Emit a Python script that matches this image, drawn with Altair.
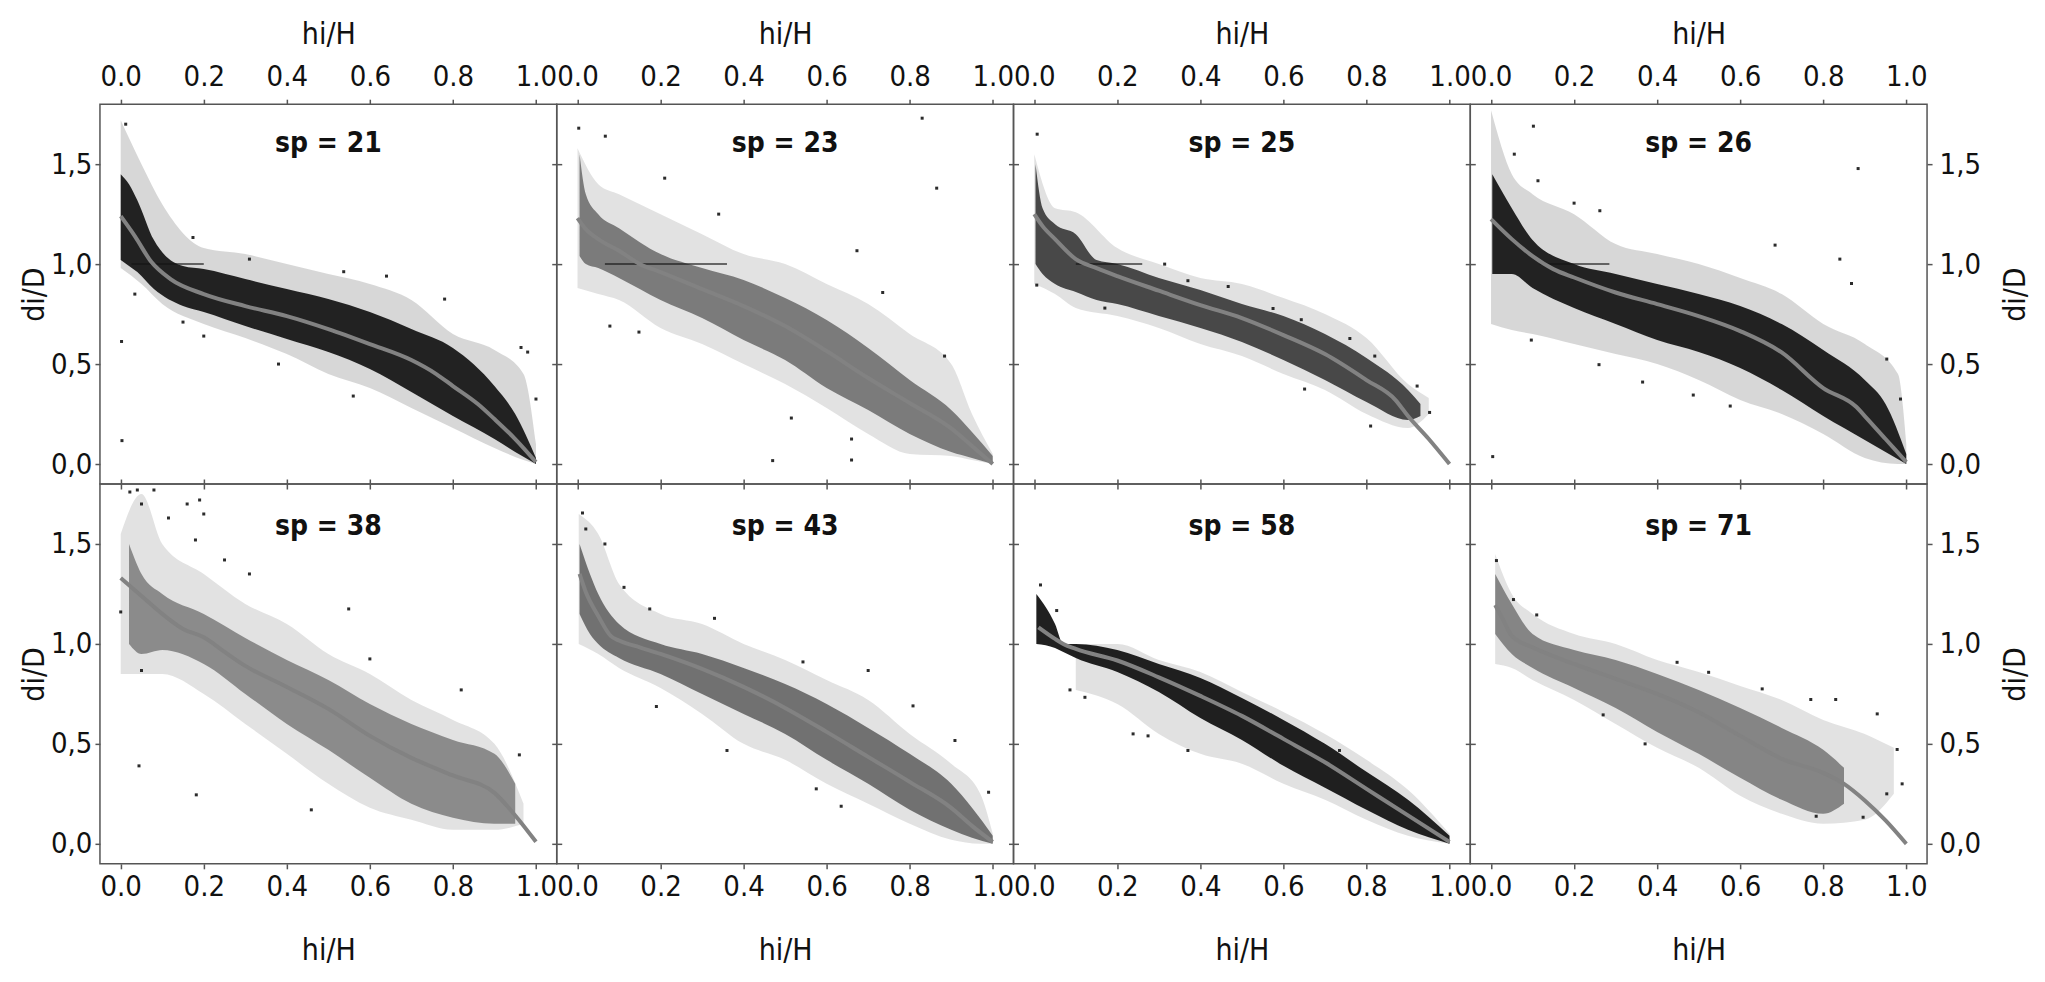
import altair as alt
import pandas as pd

# ---------------- data ----------------
X_TICKS = [0.0, 0.2, 0.4, 0.6, 0.8, 1.0]
Y_TICKS = [0.0, 0.5, 1.0, 1.5]
SPECIES = [21, 23, 25, 26, 38, 43, 58, 71]

# fitted curve (x, di/D)
FIT_21 = [(0.0, 1.24), (0.034, 1.14), (0.074, 1.01), (0.12, 0.925), (0.2, 0.85), (0.3, 0.79), (0.4, 0.74),
          (0.5, 0.675), (0.6, 0.6), (0.7, 0.52), (0.76, 0.45), (0.8, 0.39), (0.86, 0.3), (0.9, 0.225),
          (0.95, 0.125), (1.0, 0.01)]
FIT_23 = [(0.0, 1.23), (0.02, 1.175), (0.05, 1.125), (0.1, 1.067), (0.15, 1.0), (0.2, 0.96), (0.3, 0.875),
          (0.4, 0.79), (0.5, 0.69), (0.6, 0.565), (0.7, 0.43), (0.8, 0.305), (0.9, 0.178), (0.95, 0.09), (1.0, 0.0)]
FIT_25 = [(0.0, 1.25), (0.02, 1.19), (0.05, 1.125), (0.1, 1.025), (0.15, 0.98), (0.2, 0.94), (0.3, 0.867),
          (0.4, 0.795), (0.5, 0.73), (0.6, 0.645), (0.7, 0.55), (0.8, 0.42), (0.87, 0.32), (0.9, 0.24),
          (0.95, 0.125), (1.0, 0.0)]
FIT_26 = [(0.0, 1.225), (0.05, 1.125), (0.1, 1.04), (0.15, 0.975), (0.2, 0.933), (0.3, 0.858), (0.4, 0.8),
          (0.5, 0.74), (0.6, 0.665), (0.7, 0.558), (0.8, 0.38), (0.88, 0.285), (0.9, 0.24), (0.95, 0.125),
          (1.0, 0.01)]
FIT_38 = [(0.0, 1.33), (0.05, 1.24), (0.1, 1.15), (0.15, 1.075), (0.2, 1.033), (0.25, 0.96), (0.3, 0.89),
          (0.4, 0.785), (0.5, 0.675), (0.6, 0.54), (0.7, 0.43), (0.8, 0.342), (0.9, 0.255), (0.95, 0.142),
          (1.0, 0.01)]
FIT_43 = [(0.005, 1.35), (0.02, 1.26), (0.05, 1.14), (0.08, 1.04), (0.1, 1.017), (0.15, 0.983), (0.2, 0.95),
          (0.3, 0.875), (0.4, 0.785), (0.5, 0.68), (0.6, 0.56), (0.7, 0.435), (0.8, 0.31), (0.9, 0.18),
          (0.95, 0.09), (1.0, 0.01)]
FIT_58 = [(0.01, 1.083), (0.05, 1.025), (0.07, 1.0), (0.1, 0.975), (0.2, 0.917), (0.3, 0.833), (0.4, 0.74),
          (0.5, 0.64), (0.6, 0.525), (0.7, 0.408), (0.8, 0.275), (0.9, 0.142), (1.0, 0.01)]
FIT_71 = [(0.01, 1.195), (0.03, 1.117), (0.05, 1.04), (0.1, 0.983), (0.2, 0.9), (0.3, 0.825), (0.4, 0.75),
          (0.5, 0.658), (0.6, 0.54), (0.7, 0.425), (0.8, 0.355), (0.85, 0.3), (0.9, 0.217), (0.95, 0.117),
          (1.0, 0.0)]

# dense part of the point cloud (x, lower, upper)
CORE_21 = [(0.0, 1.02, 1.45), (0.02, 0.99, 1.4), (0.04, 0.96, 1.32), (0.08, 0.875, 1.12), (0.15, 0.79, 0.99),
           (0.2, 0.76, 0.975), (0.3, 0.69, 0.925), (0.4, 0.625, 0.875), (0.5, 0.56, 0.825), (0.6, 0.475, 0.76),
           (0.7, 0.36, 0.675), (0.8, 0.24, 0.58), (0.9, 0.125, 0.39), (0.95, 0.06, 0.25), (1.0, 0.0, 0.03)]
CORE_23 = [(0.005, 1.04, 1.55), (0.02, 1.0, 1.35), (0.05, 0.98, 1.25), (0.1, 0.93, 1.18), (0.2, 0.82, 1.05),
           (0.3, 0.73, 0.98), (0.4, 0.62, 0.92), (0.5, 0.52, 0.83), (0.6, 0.38, 0.72), (0.7, 0.27, 0.58),
           (0.8, 0.15, 0.42), (0.9, 0.06, 0.27), (0.95, 0.03, 0.16), (1.0, 0.0, 0.04)]
CORE_25 = [(0.003, 1.0, 1.5), (0.02, 0.95, 1.28), (0.05, 0.9, 1.2), (0.1, 0.86, 1.15), (0.15, 0.82, 1.02),
           (0.2, 0.8, 1.0), (0.3, 0.74, 0.93), (0.4, 0.68, 0.87), (0.5, 0.61, 0.8), (0.6, 0.52, 0.74),
           (0.7, 0.42, 0.65), (0.8, 0.31, 0.53), (0.9, 0.22, 0.37), (0.93, 0.24, 0.3)]
CORE_26 = [(0.003, 0.95, 1.45), (0.05, 0.95, 1.28), (0.1, 0.88, 1.12), (0.2, 0.78, 1.0), (0.3, 0.7, 0.95),
           (0.4, 0.62, 0.9), (0.5, 0.56, 0.85), (0.6, 0.48, 0.79), (0.7, 0.37, 0.7), (0.8, 0.24, 0.57),
           (0.9, 0.12, 0.42), (0.95, 0.06, 0.3), (1.0, 0.0, 0.05)]
CORE_38 = [(0.02, 1.0, 1.5), (0.05, 0.95, 1.35), (0.1, 0.97, 1.25), (0.2, 0.9, 1.15), (0.3, 0.75, 1.03),
           (0.4, 0.6, 0.92), (0.5, 0.47, 0.82), (0.6, 0.33, 0.7), (0.7, 0.2, 0.6), (0.8, 0.13, 0.52),
           (0.9, 0.1, 0.45), (0.95, 0.1, 0.3)]
CORE_43 = [(0.005, 1.15, 1.5), (0.03, 1.05, 1.35), (0.05, 1.0, 1.25), (0.1, 0.93, 1.1), (0.2, 0.85, 1.0),
           (0.3, 0.75, 0.95), (0.4, 0.65, 0.88), (0.5, 0.55, 0.8), (0.6, 0.42, 0.7), (0.7, 0.3, 0.58),
           (0.8, 0.17, 0.45), (0.9, 0.07, 0.3), (0.95, 0.03, 0.18), (1.0, 0.0, 0.04)]
CORE_58 = [(0.005, 1.0, 1.25), (0.05, 0.98, 1.1), (0.07, 0.96, 1.0), (0.1, 0.93, 1.0), (0.2, 0.86, 0.97),
           (0.3, 0.76, 0.9), (0.4, 0.63, 0.83), (0.5, 0.52, 0.73), (0.6, 0.39, 0.62), (0.7, 0.28, 0.5),
           (0.8, 0.17, 0.36), (0.9, 0.07, 0.22), (1.0, 0.0, 0.04)]
CORE_71 = [(0.01, 1.05, 1.35), (0.05, 0.95, 1.2), (0.1, 0.88, 1.05), (0.2, 0.78, 0.97), (0.3, 0.68, 0.92),
           (0.4, 0.56, 0.85), (0.5, 0.45, 0.77), (0.6, 0.33, 0.68), (0.7, 0.22, 0.58), (0.8, 0.15, 0.47),
           (0.85, 0.2, 0.38)]

# sparse fringe of the point cloud (x, lower, upper)
OUTER_21 = [(0.0, 0.98, 1.72), (0.05, 0.9, 1.5), (0.1, 0.8, 1.3), (0.2, 0.7, 1.08), (0.3, 0.63, 1.05),
            (0.4, 0.55, 1.0), (0.5, 0.45, 0.95), (0.6, 0.38, 0.9), (0.7, 0.28, 0.82), (0.8, 0.18, 0.65),
            (0.9, 0.08, 0.57), (0.97, 0.02, 0.45), (1.0, 0.0, 0.1)]
OUTER_23 = [(0.0, 0.88, 1.58), (0.05, 0.85, 1.4), (0.1, 0.82, 1.35), (0.2, 0.68, 1.25), (0.3, 0.6, 1.15),
            (0.4, 0.5, 1.05), (0.5, 0.4, 1.0), (0.6, 0.28, 0.9), (0.7, 0.15, 0.8), (0.8, 0.05, 0.65),
            (0.9, 0.04, 0.5), (0.95, 0.02, 0.25), (1.0, 0.0, 0.05)]
OUTER_25 = [(0.0, 0.9, 1.55), (0.05, 0.85, 1.28), (0.1, 0.78, 1.26), (0.2, 0.74, 1.08), (0.3, 0.68, 1.0),
            (0.4, 0.6, 0.93), (0.5, 0.54, 0.9), (0.6, 0.45, 0.83), (0.7, 0.37, 0.75), (0.8, 0.25, 0.63),
            (0.9, 0.18, 0.4), (0.95, 0.25, 0.33)]
OUTER_26 = [(0.0, 0.7, 1.77), (0.05, 0.67, 1.45), (0.1, 0.65, 1.35), (0.2, 0.6, 1.25), (0.3, 0.55, 1.1),
            (0.4, 0.5, 1.05), (0.5, 0.42, 1.0), (0.6, 0.32, 0.93), (0.7, 0.25, 0.85), (0.8, 0.15, 0.7),
            (0.9, 0.03, 0.6), (0.98, 0.0, 0.45), (1.0, 0.0, 0.1)]
OUTER_38 = [(0.0, 0.85, 1.55), (0.05, 0.85, 1.75), (0.1, 0.85, 1.5), (0.2, 0.75, 1.35), (0.3, 0.6, 1.2),
            (0.4, 0.45, 1.1), (0.5, 0.3, 0.95), (0.6, 0.18, 0.85), (0.7, 0.12, 0.72), (0.8, 0.07, 0.62),
            (0.9, 0.07, 0.5), (0.97, 0.1, 0.2)]
OUTER_43 = [(0.003, 1.0, 1.65), (0.05, 0.95, 1.55), (0.1, 0.88, 1.3), (0.2, 0.78, 1.15), (0.3, 0.65, 1.1),
            (0.4, 0.5, 1.0), (0.5, 0.42, 0.92), (0.6, 0.3, 0.82), (0.7, 0.2, 0.72), (0.8, 0.1, 0.55),
            (0.9, 0.02, 0.4), (0.97, 0.0, 0.25), (1.0, 0.0, 0.05)]
OUTER_58 = [(0.1, 0.77, 1.0), (0.2, 0.7, 1.0), (0.3, 0.55, 0.92), (0.4, 0.45, 0.86), (0.5, 0.4, 0.76),
            (0.6, 0.3, 0.66), (0.7, 0.22, 0.55), (0.8, 0.12, 0.42), (0.9, 0.04, 0.27), (1.0, 0.0, 0.05)]
OUTER_71 = [(0.01, 0.9, 1.45), (0.05, 0.88, 1.25), (0.1, 0.82, 1.15), (0.2, 0.72, 1.05), (0.3, 0.6, 1.0),
            (0.4, 0.48, 0.92), (0.5, 0.38, 0.86), (0.6, 0.24, 0.79), (0.7, 0.15, 0.72), (0.8, 0.1, 0.62),
            (0.9, 0.12, 0.55), (0.97, 0.25, 0.48)]

# isolated points (x, di/D)
DOTS_21 = [(0.003, 0.117), (0.002, 0.613), (0.034, 0.85), (0.174, 1.133), (0.31, 1.025), (0.537, 0.962),
           (0.64, 0.94), (0.78, 0.825), (0.56, 0.34), (0.38, 0.5), (0.964, 0.583), (0.98, 0.56), (1.0, 0.325),
           (0.15, 0.71), (0.2, 0.64), (0.012, 1.7)]
DOTS_23 = [(0.003, 1.68), (0.067, 1.64), (0.21, 1.43), (0.83, 1.73), (0.865, 1.38), (0.673, 1.067),
           (0.47, 0.017), (0.66, 0.02), (0.34, 1.25), (0.078, 0.69), (0.148, 0.66), (0.515, 0.23),
           (0.66, 0.125), (0.884, 0.54), (0.735, 0.858)]
DOTS_25 = [(0.007, 1.65), (0.006, 0.895), (0.952, 0.258), (0.314, 1.0), (0.37, 0.917), (0.467, 0.888),
           (0.575, 0.778), (0.643, 0.722), (0.76, 0.628), (0.82, 0.54), (0.922, 0.39), (0.81, 0.19),
           (0.651, 0.375), (0.17, 0.78)]
DOTS_26 = [(0.102, 1.69), (0.884, 1.478), (0.684, 1.095), (0.84, 1.025), (0.868, 0.903), (0.004, 0.037),
           (0.056, 1.55), (0.113, 1.417), (0.2, 1.305), (0.262, 1.267), (0.097, 0.62), (0.26, 0.497),
           (0.365, 0.41), (0.487, 0.345), (0.576, 0.29), (0.953, 0.525), (0.986, 0.325)]
DOTS_38 = [(0.022, 1.76), (0.04, 1.77), (0.05, 1.7), (0.08, 1.77), (0.16, 1.7), (0.19, 1.72), (0.2, 1.65),
           (0.115, 1.63), (0.18, 1.52), (0.25, 1.42), (0.31, 1.35), (0.549, 1.175), (0.044, 0.39),
           (0.182, 0.245), (0.459, 0.17), (0.82, 0.77), (0.96, 0.445), (0.0, 1.16), (0.05, 0.867), (0.6, 0.925)]
DOTS_43 = [(0.012, 1.655), (0.02, 1.575), (0.066, 1.5), (0.112, 1.283), (0.174, 1.175), (0.33, 1.128),
           (0.543, 0.91), (0.7, 0.867), (0.808, 0.69), (0.909, 0.517), (0.19, 0.687), (0.36, 0.467),
           (0.575, 0.275), (0.635, 0.188), (0.99, 0.258)]
DOTS_58 = [(0.015, 1.295), (0.054, 1.167), (0.086, 0.77), (0.122, 0.733), (0.238, 0.55), (0.274, 0.54),
           (0.37, 0.467), (0.735, 0.467)]
DOTS_71 = [(0.013, 1.417), (0.11, 1.145), (0.054, 1.222), (0.448, 0.908), (0.524, 0.858), (0.653, 0.775),
           (0.77, 0.722), (0.83, 0.722), (0.93, 0.65), (0.978, 0.472), (0.99, 0.3), (0.953, 0.25),
           (0.896, 0.133), (0.783, 0.138), (0.371, 0.5), (0.27, 0.645)]

# dense horizontal runs of points at di/D = 1.0 (x start, x end, di/D)
RUN_21 = [(0.026, 0.2, 1.0)]
RUN_23 = [(0.066, 0.36, 1.0)]
RUN_25 = [(0.1, 0.26, 1.0)]
RUN_26 = [(0.117, 0.285, 1.0)]

FIT = {21: FIT_21, 23: FIT_23, 25: FIT_25, 26: FIT_26, 38: FIT_38, 43: FIT_43, 58: FIT_58, 71: FIT_71}
CORE = {21: CORE_21, 23: CORE_23, 25: CORE_25, 26: CORE_26, 38: CORE_38, 43: CORE_43, 58: CORE_58, 71: CORE_71}
OUTER = {21: OUTER_21, 23: OUTER_23, 25: OUTER_25, 26: OUTER_26, 38: OUTER_38, 43: OUTER_43, 58: OUTER_58,
         71: OUTER_71}
DOTS = {21: DOTS_21, 23: DOTS_23, 25: DOTS_25, 26: DOTS_26, 38: DOTS_38, 43: DOTS_43, 58: DOTS_58, 71: DOTS_71}
RUNS = {21: RUN_21, 23: RUN_23, 25: RUN_25, 26: RUN_26}

# ---------------- style ----------------
CORE_OPACITY = {21: 0.93, 23: 0.5, 25: 0.75, 26: 0.93, 38: 0.42, 43: 0.55, 58: 0.95, 71: 0.45}
OUTER_OPACITY = {21: 0.17, 23: 0.12, 25: 0.13, 26: 0.17, 38: 0.12, 43: 0.12, 58: 0.13, 71: 0.12}
W, H = 457, 380
FONT = "DejaVu Sans Condensed, Liberation Sans Narrow, sans-serif"
INK = "#141414"
FRAME = "#555555"
FIT_GREY = "#828282"
LABEL_SIZE = 29
TITLE_SIZE = 30
TICK = 5

XS = alt.Scale(domain=[-0.05, 1.05], nice=False, zero=False)
YS = alt.Scale(domain=[-0.1, 1.8], nice=False, zero=False)
Y_LABEL = "replace(format(datum.value, '.1f'), '.', ',')"


def x_axis(orient, show):
    kw = dict(orient=orient, values=X_TICKS, format=".1f", grid=False, domain=False,
              tickSize=TICK, tickWidth=1.5, tickColor=FRAME, labels=show)
    if show:
        kw.update(title="hi/H", labelFont=FONT, labelFontSize=LABEL_SIZE, labelColor="#111",
                  labelPadding=8 if orient == "top" else 4,
                  titleFont=FONT, titleFontSize=TITLE_SIZE, titleFontWeight="normal", titleColor="#111",
                  titlePadding=13 if orient == "top" else 34, labelFlush=False, labelOverlap=False)
    else:
        kw.update(title=None)
    return alt.Axis(**kw)


def y_axis(orient, show):
    kw = dict(orient=orient, values=Y_TICKS, grid=False, domain=False,
              tickSize=TICK, tickWidth=1.5, tickColor=FRAME, labels=show)
    if show:
        kw.update(title="di/D", labelExpr=Y_LABEL, labelFont=FONT, labelFontSize=LABEL_SIZE, labelColor="#111",
                  labelPadding=3 if orient == "left" else 7, titleFont=FONT, titleFontSize=TITLE_SIZE,
                  titleFontWeight="normal", titleColor="#111", titleAngle=270, labelOverlap=False,
                  titlePadding=1 if orient == "left" else 20)
        if orient == "right":
            kw.update(titleBaseline="top")
    else:
        kw.update(title=None)
    return alt.Axis(**kw)


def panel(sp, row, col):
    core = pd.DataFrame(CORE[sp], columns=["x", "lo", "hi"])
    outer = pd.DataFrame(OUTER[sp], columns=["x", "lo", "hi"])
    fit = pd.DataFrame(FIT[sp], columns=["x", "y"])
    dots = pd.DataFrame(DOTS[sp], columns=["x", "y"])
    label = pd.DataFrame({"t": [f"sp = {sp}"]})

    top_row = row == 0
    layers = []

    layers.append(alt.Chart(outer).mark_area(color=INK, opacity=OUTER_OPACITY[sp], interpolate="monotone").encode(
        x=alt.X("x:Q", scale=XS, axis=None),
        y=alt.Y("lo:Q", scale=YS, axis=None),
        y2="hi:Q"))

    layers.append(alt.Chart(core).mark_area(color=INK, opacity=CORE_OPACITY[sp], interpolate="monotone").encode(
        x=alt.X("x:Q", scale=XS, axis=x_axis("top" if top_row else "bottom", True)),
        y=alt.Y("lo:Q", scale=YS, axis=y_axis("left", col == 0)),
        y2="hi:Q"))

    if sp in RUNS:
        runs = pd.DataFrame(RUNS[sp], columns=["x1", "x2", "y"])
        layers.append(alt.Chart(runs).mark_rule(color=INK, strokeWidth=1.5, opacity=0.8).encode(
            x=alt.X("x1:Q", scale=XS, axis=None), x2="x2:Q",
            y=alt.Y("y:Q", scale=YS, axis=None)))

    layers.append(alt.Chart(dots).mark_square(color=INK, size=9, opacity=0.9).encode(
        x=alt.X("x:Q", scale=XS, axis=None),
        y=alt.Y("y:Q", scale=YS, axis=None)))

    layers.append(alt.Chart(fit).mark_line(color=FIT_GREY, strokeWidth=4, interpolate="monotone").encode(
        x=alt.X("x:Q", scale=XS, axis=x_axis("bottom" if top_row else "top", False)),
        y=alt.Y("y:Q", scale=YS, axis=y_axis("right", col == 3))))

    layers.append(alt.Chart(label).mark_text(font=FONT, fontSize=28, fontWeight="bold", color="#111",
                                             align="center", baseline="middle").encode(
        x=alt.value(W / 2), y=alt.value(40 if top_row else 43), text="t:N"))

    return alt.layer(*layers).resolve_axis(x="independent", y="independent").properties(width=W, height=H)


cells = [panel(SPECIES[r * 4 + c], r, c) for r in range(2) for c in range(4)]

chart = alt.concat(*cells, columns=4, spacing=0, bounds="flush").configure_view(
    stroke=FRAME, strokeWidth=1.5
).properties(padding={"left": 10, "top": 10, "right": 5, "bottom": 5}, background="white")

chart.save("out.html", embed_options={"renderer": "svg", "actions": False})
